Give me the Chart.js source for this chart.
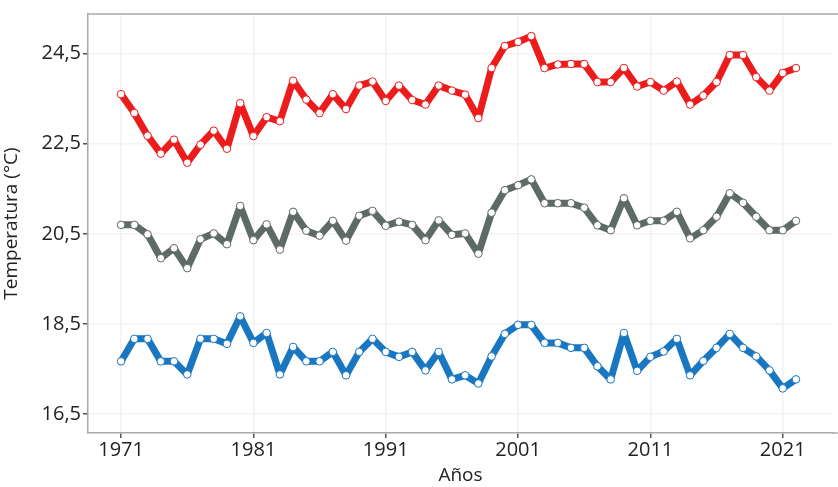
<!DOCTYPE html>
<html>
<head>
<meta charset="utf-8">
<script src="https://cdn.jsdelivr.net/npm/chart.js@4/dist/chart.umd.min.js"></script>
<style>
  html, body { margin: 0; padding: 0; background: #fff; }
  #wrap { width: 838px; height: 487px; }
</style>
</head>
<body>
<div id="wrap"><canvas id="chart" width="838" height="487"></canvas></div>
<script>
const years = [];
for (let y = 1971; y <= 2022; y++) years.push(y);

const maxTemp = [
    23.60, 23.18, 22.68, 22.28, 22.59, 22.08, 22.48, 22.79, 22.39, 23.40,
    22.67, 23.09, 23.00, 23.90, 23.48, 23.18, 23.60, 23.27, 23.79, 23.88,
    23.45, 23.79, 23.47, 23.37, 23.79, 23.68, 23.59, 23.07, 24.18, 24.67,
    24.76, 24.89, 24.18, 24.26, 24.27, 24.27, 23.87, 23.87, 24.18, 23.77,
    23.87, 23.68, 23.88, 23.37, 23.57, 23.87, 24.47, 24.47, 23.98, 23.68,
    24.07, 24.18,
];
const meanTemp = [
    20.70, 20.70, 20.49, 19.96, 20.18, 19.74, 20.38, 20.51, 20.27, 21.12,
    20.36, 20.71, 20.15, 20.99, 20.57, 20.46, 20.79, 20.35, 20.90, 21.01,
    20.68, 20.77, 20.70, 20.36, 20.80, 20.48, 20.51, 20.06, 20.97, 21.47,
    21.58, 21.71, 21.18, 21.18, 21.18, 21.08, 20.69, 20.58, 21.29, 20.69,
    20.79, 20.79, 20.99, 20.40, 20.58, 20.88, 21.40, 21.19, 20.88, 20.58,
    20.58, 20.79,
];
const minTemp = [
    17.67, 18.17, 18.17, 17.67, 17.67, 17.38, 18.17, 18.17, 18.06, 18.67,
    18.08, 18.30, 17.38, 17.99, 17.67, 17.67, 17.88, 17.36, 17.88, 18.17,
    17.88, 17.77, 17.88, 17.47, 17.88, 17.27, 17.36, 17.18, 17.78, 18.28,
    18.48, 18.48, 18.08, 18.08, 17.97, 17.97, 17.56, 17.27, 18.30, 17.46,
    17.77, 17.89, 18.17, 17.36, 17.68, 17.97, 18.28, 17.97, 17.78, 17.47,
    17.07, 17.27,
];

const xTicks = [1971, 1981, 1991, 2001, 2011, 2021];
const yTicks = [16.5, 18.5, 20.5, 22.5, 24.5];

const RED = '#ec1c1c';
const GRAY = '#5e6a66';
const BLUE = '#1877c0';
const FONT = "'Open Sans', 'DejaVu Sans', sans-serif";

function series(values, color) {
    return {
        data: values.map((v, i) => ({ x: years[i], y: v })),
        borderColor: color,
        borderWidth: 7,
        borderJoinStyle: 'round',
        borderCapStyle: 'round',
        pointRadius: 3.8,
        pointBorderWidth: 1,
        pointBorderColor: color,
        pointBackgroundColor: '#ffffff',
        tension: 0,
    };
}

// plot frame: top edge, and the axis lines carried on to the right edge
const frame = {
    id: 'frame',
    afterDraw(chart) {
        const { ctx, chartArea } = chart;
        ctx.save();
        ctx.strokeStyle = '#a9a9a9';
        ctx.lineWidth = 1.5;
        ctx.beginPath();
        ctx.moveTo(chartArea.left, chartArea.top);
        ctx.lineTo(chart.width, chartArea.top);
        ctx.moveTo(chartArea.right - 1, chartArea.bottom);
        ctx.lineTo(chart.width, chartArea.bottom);
        ctx.stroke();
        ctx.restore();
    },
};

new Chart(document.getElementById('chart'), {
    type: 'line',
    data: {
        datasets: [
            series(maxTemp, RED),
            series(meanTemp, GRAY),
            series(minTemp, BLUE),
        ],
    },
    options: {
        responsive: false,
        animation: false,
        devicePixelRatio: 1,
        layout: { padding: { top: 12, right: 0, bottom: 0, left: 0 } },
        plugins: {
            legend: { display: false },
            tooltip: { enabled: false },
        },
        scales: {
            x: {
                type: 'linear',
                min: 1968.5,
                max: 2024.8,
                afterBuildTicks: (scale) => {
                    scale.ticks = xTicks.map((v) => ({ value: v }));
                },
                afterFit: (scale) => { scale.height = 54; },
                grid: { color: '#f1f1f1', lineWidth: 1.5, tickLength: 5, tickColor: '#555' },
                border: { color: '#a9a9a9', width: 1.5 },
                ticks: {
                    color: '#222',
                    font: { family: FONT, size: 20 },
                    padding: 0,
                    callback: (v) => String(v),
                },
                title: {
                    display: true,
                    text: 'Años',
                    color: '#222',
                    font: { family: FONT, size: 19 },
                    padding: { top: 0, bottom: 0 },
                },
            },
            y: {
                min: 16.08,
                max: 25.38,
                afterBuildTicks: (scale) => {
                    scale.ticks = yTicks.map((v) => ({ value: v }));
                },
                afterFit: (scale) => { scale.width = 88; },
                grid: { color: '#f3f3f3', lineWidth: 1.5, tickLength: 5, tickColor: '#555' },
                border: { color: '#a9a9a9', width: 1.5 },
                ticks: {
                    color: '#222',
                    font: { family: FONT, size: 20 },
                    padding: 2,
                    callback: (v) => v.toFixed(1).replace('.', ','),
                },
                title: {
                    display: true,
                    text: 'Temperatura (°C)',
                    color: '#222',
                    font: { family: FONT, size: 19 },
                    padding: { top: 0, bottom: 0 },
                },
            },
        },
    },
    plugins: [frame],
});
</script>
</body>
</html>
